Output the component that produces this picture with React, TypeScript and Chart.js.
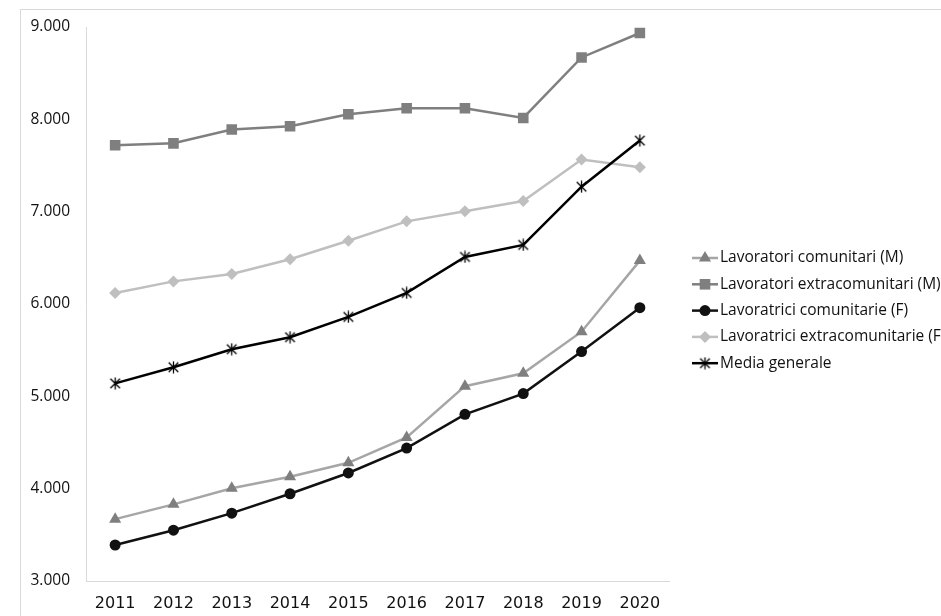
import React, { useEffect, useRef } from "react";
import { Chart, registerables } from "chart.js";

Chart.register(...registerables);

const years = ["2011", "2012", "2013", "2014", "2015", "2016", "2017", "2018", "2019", "2020"];

const comunitariM = [3670, 3830, 4005, 4130, 4280, 4555, 5110, 5250, 5700, 6470];
const extracomunitariM = [7720, 7740, 7890, 7925, 8055, 8120, 8120, 8015, 8670, 8935];
const comunitarieF = [3390, 3550, 3735, 3945, 4170, 4440, 4805, 5030, 5485, 5960];
const extracomunitarieF = [6120, 6245, 6325, 6485, 6685, 6895, 7005, 7115, 7565, 7480];
const mediaGenerale = [5140, 5315, 5510, 5640, 5860, 6120, 6510, 6640, 7270, 7770];

const seriesLabels = [
  "Lavoratori comunitari (M)",
  "Lavoratori extracomunitari (M)",
  "Lavoratrici comunitarie (F)",
  "Lavoratrici extracomunitarie (F)",
  "Media generale",
];

const yMin = 3000;
const yMax = 9000;
const yStep = 1000;

// six-spoke asterisk used as the point style for the overall average
function makeAsterisk(size: number, color: string): HTMLCanvasElement {
  const c = document.createElement("canvas");
  c.width = size;
  c.height = size;
  const g = c.getContext("2d")!;
  const m = size / 2;
  const r = size / 2 - 0.5;
  const d = r * 0.8;
  g.strokeStyle = color;
  g.lineWidth = 1.3;
  g.beginPath();
  g.moveTo(m, m - r);
  g.lineTo(m, m + r);
  g.moveTo(m - d, m - d);
  g.lineTo(m + d, m + d);
  g.moveTo(m + d, m - d);
  g.lineTo(m - d, m + d);
  g.stroke();
  return c;
}

function formatThousands(v: number): string {
  return String(v).replace(/\B(?=(\d{3})+(?!\d))/g, ".");
}

type Marker = { shape: string; color: string; size: number };

function drawMarker(ctx: CanvasRenderingContext2D, x: number, y: number, m: Marker, star: HTMLCanvasElement) {
  ctx.save();
  ctx.fillStyle = m.color;
  ctx.beginPath();
  if (m.shape === "triangle") {
    const r = m.size;
    ctx.moveTo(x, y - r);
    ctx.lineTo(x + r * 0.866, y + r * 0.5);
    ctx.lineTo(x - r * 0.866, y + r * 0.5);
    ctx.closePath();
    ctx.fill();
  } else if (m.shape === "rect") {
    const s = m.size * Math.SQRT1_2;
    ctx.rect(x - s, y - s, 2 * s, 2 * s);
    ctx.fill();
  } else if (m.shape === "circle") {
    ctx.arc(x, y, m.size, 0, Math.PI * 2);
    ctx.fill();
  } else if (m.shape === "rectRot") {
    const r = m.size;
    ctx.moveTo(x, y - r);
    ctx.lineTo(x + r, y);
    ctx.lineTo(x, y + r);
    ctx.lineTo(x - r, y);
    ctx.closePath();
    ctx.fill();
  } else {
    ctx.drawImage(star, x - star.width / 2, y - star.height / 2);
  }
  ctx.restore();
}

export default function App() {
  const canvasRef = useRef<HTMLCanvasElement | null>(null);

  useEffect(() => {
    const canvas = canvasRef.current;
    if (!canvas) return;
    const star = makeAsterisk(13, "#000000");

    const lineColors = ["#a6a6a6", "#7f7f7f", "#111111", "#bfbfbf", "#000000"];
    const markers: Marker[] = [
      { shape: "triangle", color: "#7f7f7f", size: 7 },
      { shape: "rect", color: "#7f7f7f", size: 7.5 },
      { shape: "circle", color: "#111111", size: 5.5 },
      { shape: "rectRot", color: "#bfbfbf", size: 6 },
      { shape: "star", color: "#000000", size: 6 },
    ];

    const sideLegend = {
      id: "sideLegend",
      afterDraw(chart: Chart) {
        const ctx = chart.ctx;
        const x0 = chart.chartArea.right + 23;
        const lineLen = 26;
        ctx.save();
        seriesLabels.forEach((label, i) => {
          const y = 258 + i * 26.3;
          ctx.strokeStyle = lineColors[i];
          ctx.lineWidth = 2.5;
          ctx.beginPath();
          ctx.moveTo(x0, y);
          ctx.lineTo(x0 + lineLen, y);
          ctx.stroke();
          drawMarker(ctx, x0 + lineLen / 2, y, markers[i], star);
          ctx.fillStyle = "#111111";
          ctx.font = "15.5px 'Open Sans'";
          ctx.textBaseline = "middle";
          ctx.textAlign = "left";
          ctx.fillText(label, x0 + lineLen + 2, y);
        });
        ctx.restore();
      },
    };

    const series = [comunitariM, extracomunitariM, comunitarieF, extracomunitarieF, mediaGenerale];

    const chart = new Chart(canvas, {
      type: "line",
      data: {
        labels: years,
        datasets: series.map((data, i) => ({
          label: seriesLabels[i],
          data,
          borderColor: lineColors[i],
          backgroundColor: markers[i].color,
          borderWidth: 2.5,
          pointStyle: markers[i].shape === "star" ? star : markers[i].shape,
          pointRadius: markers[i].size,
          pointBackgroundColor: markers[i].color,
          pointBorderColor: markers[i].color,
          pointBorderWidth: 0,
          tension: 0,
          order: i === 4 ? -1 : i,
        })),
      },
      options: {
        responsive: false,
        animation: false,
        layout: { padding: { left: 0, top: 27, right: 941 - 669, bottom: 0 } },
        plugins: {
          legend: { display: false },
          tooltip: { enabled: false },
        },
        scales: {
          x: {
            offset: true,
            grid: { display: false, drawTicks: false },
            border: { display: true, color: "#d9d9d9", width: 1 },
            ticks: {
              color: "#111111",
              font: { family: "'DejaVu Sans'", size: 16 },
              padding: 13,
              maxRotation: 0,
              autoSkip: false,
            },
            afterFit(scale: any) {
              scale.height = 616 - 581;
            },
          },
          y: {
            min: yMin,
            max: yMax,
            grid: { display: false, drawTicks: false },
            border: { display: true, color: "#d9d9d9", width: 1 },
            ticks: {
              stepSize: yStep,
              color: "#111111",
              font: { family: "'Open Sans'", size: 15.5 },
              padding: 16,
              callback: (v: any) => formatThousands(Number(v)),
            },
            afterFit(scale: any) {
              scale.width = 86;
            },
          },
        },
      },
      plugins: [sideLegend],
    });

    return () => chart.destroy();
  }, []);

  return (
    <div style={{ position: "absolute", left: 0, top: 0, width: 941, height: 616, background: "#ffffff", overflow: "hidden" }}>
      <div
        style={{
          position: "absolute",
          left: 20,
          top: 9,
          width: 940,
          height: 640,
          border: "1px solid #d9d9d9",
          boxSizing: "border-box",
        }}
      />
      <canvas ref={canvasRef} width={941} height={616} style={{ position: "absolute", left: 0, top: 0 }} />
    </div>
  );
}
